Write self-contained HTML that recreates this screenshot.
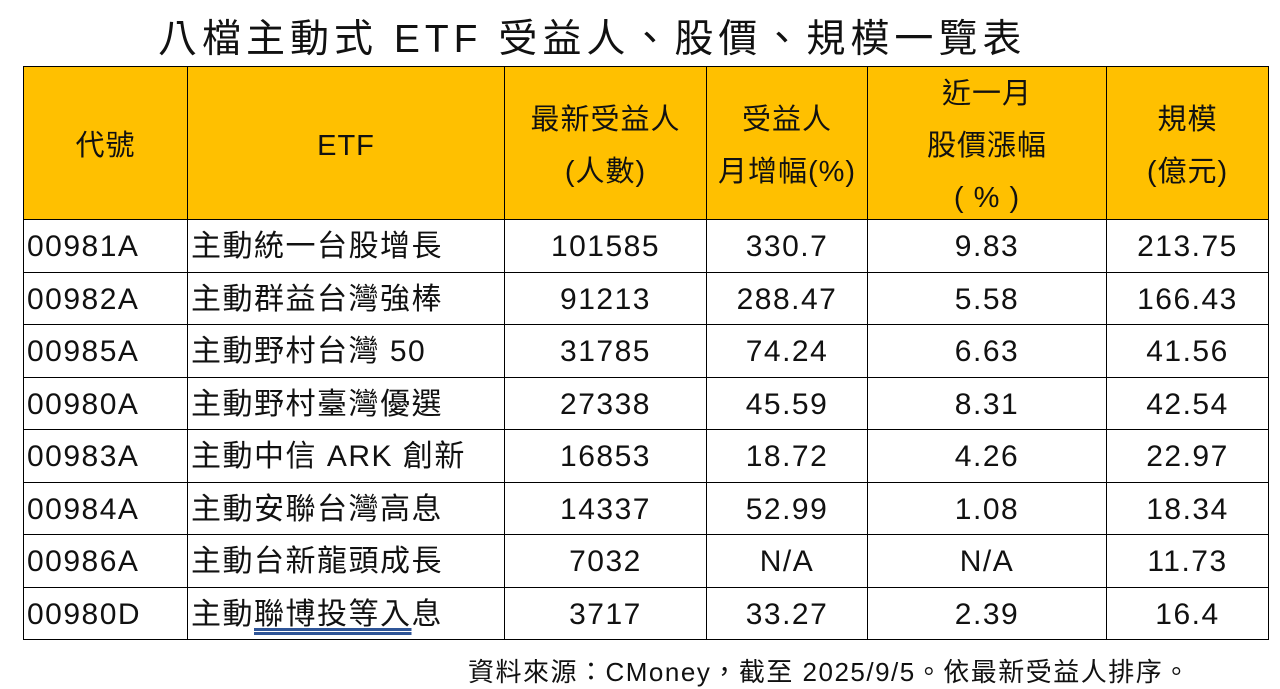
<!DOCTYPE html>
<html><head><meta charset="utf-8"><style>
body{margin:0;width:1280px;height:686px;background:#fff;position:relative;overflow:hidden;font-family:"Liberation Sans","Noto Sans CJK TC",sans-serif;color:#111}
.title{position:absolute;left:158px;top:16px;font-size:39px;line-height:48px;white-space:nowrap;letter-spacing:5px}
table{position:absolute;left:23px;top:66px;border-collapse:collapse;table-layout:fixed}
td{border:1px solid #000;padding:0;font-size:30px;text-align:center;vertical-align:middle;white-space:nowrap;letter-spacing:1.5px;overflow:hidden}
tr.h td{background:#FFC000;height:152px;font-size:29px;letter-spacing:1px;overflow:visible}
tr.h td div{line-height:52px;display:flex;flex-direction:column;justify-content:center;height:152px;position:relative;top:3px}
tr.d td{height:52.5px;line-height:48px;padding-top:3px;box-sizing:border-box}
td.l{text-align:left;padding-left:3px}
.foot{position:absolute;left:468px;top:652px;font-size:26px;white-space:nowrap;letter-spacing:1.5px}
u{text-decoration:underline double #2f5597;text-underline-offset:4px}
</style></head><body>
<div class="title">八檔主動式 ETF 受益人、股價、規模一覽表</div>
<table>
<colgroup><col style="width:164px"><col style="width:317px"><col style="width:202px"><col style="width:161px"><col style="width:239px"><col style="width:162px"></colgroup>
<tr class="h"><td><div><span>代號</span></div></td><td><div><span>ETF</span></div></td><td><div><span>最新受益人</span><span>(人數)</span></div></td><td><div><span>受益人</span><span>月增幅(%)</span></div></td><td><div><span>近一月</span><span>股價漲幅</span><span>( % )</span></div></td><td><div><span>規模</span><span>(億元)</span></div></td></tr>
<tr class="d"><td class="l">00981A</td><td class="l">主動統一台股增長</td><td>101585</td><td>330.7</td><td>9.83</td><td>213.75</td></tr>
<tr class="d"><td class="l">00982A</td><td class="l">主動群益台灣強棒</td><td>91213</td><td>288.47</td><td>5.58</td><td>166.43</td></tr>
<tr class="d"><td class="l">00985A</td><td class="l">主動野村台灣 50</td><td>31785</td><td>74.24</td><td>6.63</td><td>41.56</td></tr>
<tr class="d"><td class="l">00980A</td><td class="l">主動野村臺灣優選</td><td>27338</td><td>45.59</td><td>8.31</td><td>42.54</td></tr>
<tr class="d"><td class="l">00983A</td><td class="l">主動中信 ARK 創新</td><td>16853</td><td>18.72</td><td>4.26</td><td>22.97</td></tr>
<tr class="d"><td class="l">00984A</td><td class="l">主動安聯台灣高息</td><td>14337</td><td>52.99</td><td>1.08</td><td>18.34</td></tr>
<tr class="d"><td class="l">00986A</td><td class="l">主動台新龍頭成長</td><td>7032</td><td>N/A</td><td>N/A</td><td>11.73</td></tr>
<tr class="d"><td class="l">00980D</td><td class="l">主動<u>聯博投等入</u>息</td><td>3717</td><td>33.27</td><td>2.39</td><td>16.4</td></tr>
</table>
<div class="foot">資料來源：CMoney，截至 2025/9/5。依最新受益人排序。</div>
</body></html>
